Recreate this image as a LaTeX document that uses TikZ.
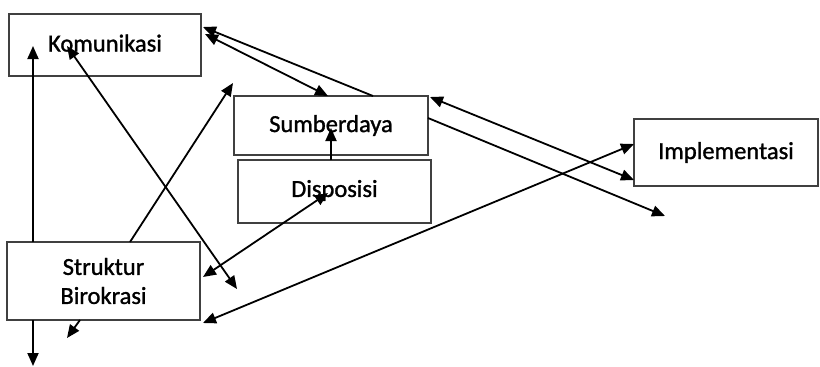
\documentclass[tikz,border=0pt]{standalone}
\usepackage{fontspec}
\setmainfont{Carlito}
\newfontfamily\boxfont{Carlito}[FakeBold=1.2]
\usetikzlibrary{arrows.meta}
\tikzset{
  box/.style={draw=black!75, line width=1.6pt, fill=white, inner sep=0pt,
    font=\boxfont\fontsize{24.5}{29}\selectfont, align=center},
  tip/.tip={Triangle[length=13pt,width=11pt]},
  link/.style={line width=1.8pt, -tip},
  both/.style={line width=1.8pt, tip-tip}
}
\begin{document}
\begin{tikzpicture}[x=1pt,y=-1pt]
\useasboundingbox (0,0) rectangle (820,367);
\fill[white] (0,0) rectangle (820,367);

% boxes
\node[box, minimum width=192pt, minimum height=62pt, text depth=4pt] (kom) at (105,45) {Komunikasi};
\node[box, minimum width=194pt, minimum height=59pt] (sum) at (331,125.5) {Sumberdaya};
\node[box, minimum width=193pt, minimum height=63pt, text depth=6pt] (dis) at (334.5,191.5) {Disposisi};
\node[box, minimum width=184pt, minimum height=67pt] (imp) at (726,152.5) {Implementasi};
\node[box, minimum width=193pt, minimum height=78pt] (str) at (103.5,281) {Struktur\\Birokrasi};

% connector ends
\coordinate (strTopL) at (33,242);
\coordinate (komIn) at (33,46);
\coordinate (strBotL) at (33,320);
\coordinate (belowL) at (33,366);
\coordinate (komText) at (67,46);
\coordinate (midLow) at (237,289);
\coordinate (strTopM) at (130,242);
\coordinate (midUp) at (233,83);
\coordinate (komR1) at (203,27);
\coordinate (komR2) at (205,34);
\coordinate (sumT1) at (328,96);
\coordinate (sumT2) at (373,96);
\coordinate (disT) at (331,160);
\coordinate (sumIn) at (331,128);
\coordinate (strR1) at (203,277);
\coordinate (disIn) at (328,193);
\coordinate (strR2) at (203,323);
\coordinate (impL1) at (634,144);
\coordinate (sumR1) at (430,97);
\coordinate (impL2) at (634,180);
\coordinate (sumR2) at (428,118);
\coordinate (farR) at (665,216);
\coordinate (strBotM) at (80,320);
\coordinate (belowM) at (67,338);

% connectors
\draw[link] (strTopL) -- (komIn);
\draw[link] (strBotL) -- (belowL);
\draw[both] (komText) -- (midLow);
\draw[link] (strTopM) -- (midUp);
\draw[link] (sumT2) -- (komR1);
\draw[both] (komR2) -- (sumT1);
\draw[link] (disT) -- (sumIn);
\draw[both] (strR1) -- (disIn);
\draw[both] (strR2) -- (impL1);
\draw[both] (sumR1) -- (impL2);
\draw[link] (sumR2) -- (farR);
\draw[link] (strBotM) -- (belowM);
\end{tikzpicture}
\end{document}
